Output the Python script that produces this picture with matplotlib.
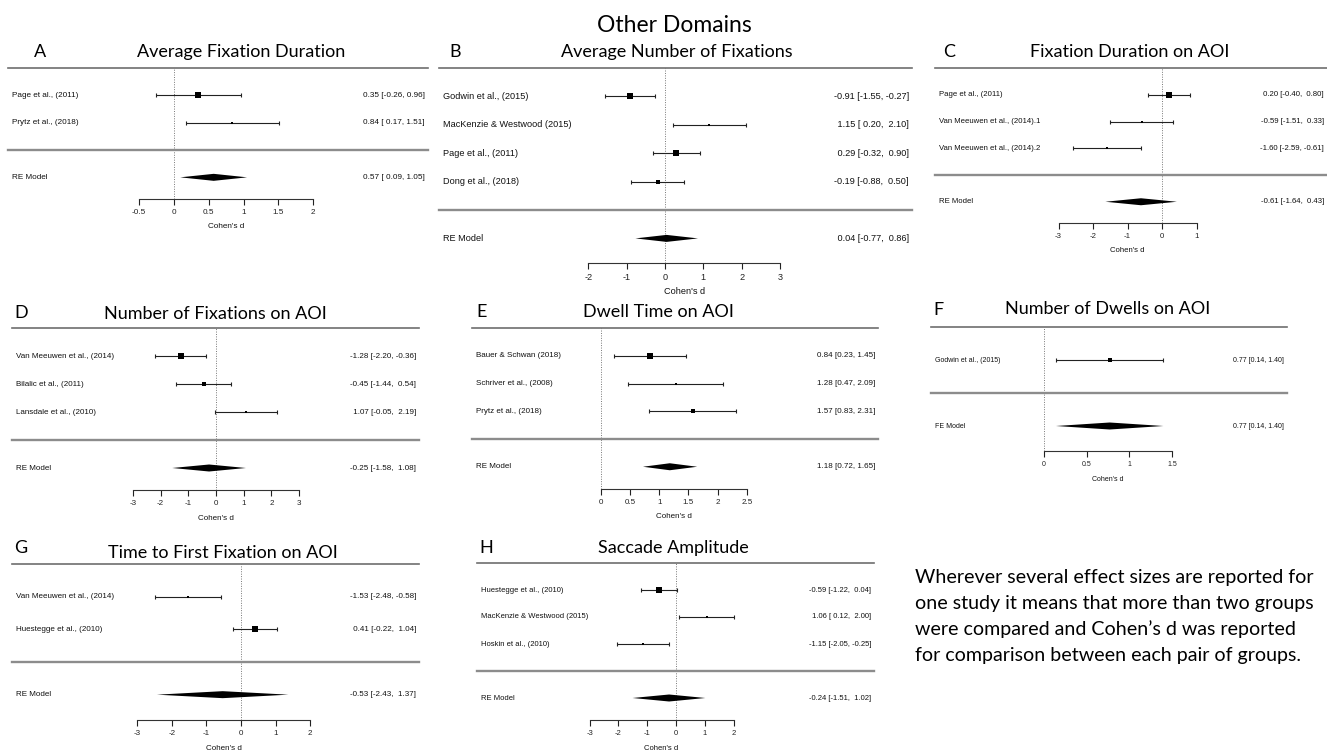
import numpy as np
import matplotlib.pyplot as plt

plt.rcParams['font.family'] = ['Liberation Sans', 'DejaVu Sans']

W, H = 1327, 750

# A: Average Fixation Duration
a_studies = ["Page et al., (2011)", "Prytz et al., (2018)"]
a_est = [0.35, 0.84]
a_lo = [-0.26, 0.17]
a_hi = [0.96, 1.51]
a_model = ["RE Model", 0.57, 0.09, 1.05]
a_ticks = [-0.5, 0, 0.5, 1, 1.5, 2]

# B: Average Number of Fixations
b_studies = ["Godwin et al., (2015)", "MacKenzie & Westwood (2015)",
             "Page et al., (2011)", "Dong et al., (2018)"]
b_est = [-0.91, 1.15, 0.29, -0.19]
b_lo = [-1.55, 0.20, -0.32, -0.88]
b_hi = [-0.27, 2.10, 0.90, 0.50]
b_model = ["RE Model", 0.04, -0.77, 0.86]
b_ticks = [-2, -1, 0, 1, 2, 3]

# C: Fixation Duration on AOI
c_studies = ["Page et al., (2011)", "Van Meeuwen et al., (2014).1",
             "Van Meeuwen et al., (2014).2"]
c_est = [0.20, -0.59, -1.60]
c_lo = [-0.40, -1.51, -2.59]
c_hi = [0.80, 0.33, -0.61]
c_model = ["RE Model", -0.61, -1.64, 0.43]
c_ticks = [-3, -2, -1, 0, 1]

# D: Number of Fixations on AOI
d_studies = ["Van Meeuwen et al., (2014)", "Bilalic et al., (2011)",
             "Lansdale et al., (2010)"]
d_est = [-1.28, -0.45, 1.07]
d_lo = [-2.20, -1.44, -0.05]
d_hi = [-0.36, 0.54, 2.19]
d_model = ["RE Model", -0.25, -1.58, 1.08]
d_ticks = [-3, -2, -1, 0, 1, 2, 3]

# E: Dwell Time on AOI
e_studies = ["Bauer & Schwan (2018)", "Schriver et al., (2008)",
             "Prytz et al., (2018)"]
e_est = [0.84, 1.28, 1.57]
e_lo = [0.23, 0.47, 0.83]
e_hi = [1.45, 2.09, 2.31]
e_model = ["RE Model", 1.18, 0.72, 1.65]
e_ticks = [0, 0.5, 1, 1.5, 2, 2.5]

# F: Number of Dwells on AOI
f_studies = ["Godwin et al., (2015)"]
f_est = [0.77]
f_lo = [0.14]
f_hi = [1.40]
f_model = ["FE Model", 0.77, 0.14, 1.40]
f_ticks = [0, 0.5, 1, 1.5]

# G: Time to First Fixation on AOI
g_studies = ["Van Meeuwen et al., (2014)", "Huestegge et al., (2010)"]
g_est = [-1.53, 0.41]
g_lo = [-2.48, -0.22]
g_hi = [-0.58, 1.04]
g_model = ["RE Model", -0.53, -2.43, 1.37]
g_ticks = [-3, -2, -1, 0, 1, 2]

# H: Saccade Amplitude
h_studies = ["Huestegge et al., (2010)", "MacKenzie & Westwood (2015)",
             "Hoskin et al., (2010)"]
h_est = [-0.59, 1.06, -1.15]
h_lo = [-1.22, 0.12, -2.05]
h_hi = [0.04, 2.00, -0.25]
h_model = ["RE Model", -0.24, -1.51, 1.02]
h_ticks = [-3, -2, -1, 0, 1, 2]

note_lines = [
    "Wherever several effect sizes are reported for",
    "one study it means that more than two groups",
    "were compared and Cohen\u2019s d was reported",
    "for comparison between each pair of groups.",
]

fig = plt.figure(figsize=(W / 100, H / 100), dpi=100)


def fx(px):
    return px / W


def fy(py):
    return 1 - py / H


def fmt_col(vals):
    s = [f"{v:.2f}" for v in vals]
    w = max(len(t) for t in s)
    return [t.rjust(w) for t in s]


def forest(geom, studies, est, lo, hi, model, ticks):
    left, right, top, sep, axis_y, x0, ppu, fs = geom
    k = len(studies)
    unit = (sep - top) / (k + 1)
    ax = fig.add_axes([fx(left), fy(axis_y), (right - left) / W, (axis_y - top) / H])
    ax.set_xlim((left - x0) / ppu, (right - x0) / ppu)
    ax.set_ylim(-(axis_y - sep) / unit, k + 1)
    ax.patch.set_alpha(0)
    for s in ['top', 'left', 'right']:
        ax.spines[s].set_visible(False)
    ax.spines['bottom'].set_bounds(ticks[0], ticks[-1])
    ax.spines['bottom'].set_linewidth(0.8)
    ax.spines['bottom'].set_color('#333333')
    ax.set_yticks([])
    ax.set_xticks(ticks)
    ax.set_xticklabels([f"{t:g}" for t in ticks])
    ax.tick_params(axis='x', direction='out', length=4, width=0.8, pad=3,
                   labelsize=fs, colors='#222222')

    ax.axhline(k + 1, color='#6e6e6e', lw=1.2, clip_on=False)
    ax.axhline(0, color='#8c8c8c', lw=1.7, clip_on=False)
    ax.axvline(0, color='#777777', lw=0.7, ls=(0, (1, 1.5)), zorder=1)

    est = np.array(est)
    lo = np.array(lo)
    hi = np.array(hi)
    rows = np.arange(k, 0, -1)

    # square size from inverse-variance weights
    w = 1 / ((hi - lo) / 3.92) ** 2
    if k > 1:
        psize = (w - w.min()) / (w.max() - w.min()) + 0.5
    else:
        psize = np.ones(k)

    cap = 2.0 / unit
    ax.hlines(rows, lo, hi, color='#222222', lw=0.8)
    ax.vlines(np.r_[lo, hi], np.r_[rows, rows] - cap, np.r_[rows, rows] + cap,
              color='#222222', lw=0.8)
    for r, e, p in zip(rows, est, psize):
        ax.plot(e, r, marker='s', ms=p * 4 * 0.72, color='black', mew=0, zorder=3)

    name, m_est, m_lo, m_hi = model
    dh = 3.5 / unit
    ax.fill([m_lo, m_est, m_hi, m_est], [-1, -1 + dh, -1, -1 - dh],
            color='black', lw=0)

    est_s = fmt_col(list(est) + [m_est])
    lo_s = fmt_col(list(lo) + [m_lo])
    hi_s = fmt_col(list(hi) + [m_hi])
    xl = (left + 4 - x0) / ppu
    xr = (right - 3 - x0) / ppu
    for i, (r, lab) in enumerate(zip(list(rows) + [-1], list(studies) + [name])):
        ax.text(xl, r, lab, ha='left', va='center', fontsize=fs, color='#111111')
        ax.text(xr, r, f"{est_s[i]} [{lo_s[i]}, {hi_s[i]}]", ha='right',
                va='center', fontsize=fs, color='#111111')

    mid = (ticks[0] + ticks[-1]) / 2
    fig.text(fx(x0 + mid * ppu), fy(axis_y + 28), "Cohen's d", ha='center',
             va='center', fontsize=fs, color='#111111')
    return ax


# left, right, top line, separator, axis line, x of zero, px per unit, font size
panels = [
    ((8, 428, 68, 150, 199, 174, 69.6, 5.9), a_studies, a_est, a_lo, a_hi, a_model, a_ticks,
     "A", "Average Fixation Duration", (40, 57), (241, 57)),
    ((439, 912, 68, 210, 263, 665, 38.4, 6.6), b_studies, b_est, b_lo, b_hi, b_model, b_ticks,
     "B", "Average Number of Fixations", (455, 57), (677, 57)),
    ((935, 1327, 68, 175, 223, 1162, 34.5, 5.6), c_studies, c_est, c_lo, c_hi, c_model, c_ticks,
     "C", "Fixation Duration on AOI", (949, 57), (1130, 57)),
    ((12, 419, 328, 440, 490, 216, 27.7, 5.8), d_studies, d_est, d_lo, d_hi, d_model, d_ticks,
     "D", "Number of Fixations on AOI", (21, 318), (215, 319)),
    ((472, 878, 328, 439, 489, 601, 58.3, 5.8), e_studies, e_est, e_lo, e_hi, e_model, e_ticks,
     "E", "Dwell Time on AOI", (482, 317), (658, 317)),
    ((931, 1287, 327, 393, 451, 1044, 85.3, 5.0), f_studies, f_est, f_lo, f_hi, f_model, f_ticks,
     "F", "Number of Dwells on AOI", (938, 315), (1108, 314)),
    ((12, 419, 564, 662, 720, 241, 34.6, 5.8), g_studies, g_est, g_lo, g_hi, g_model, g_ticks,
     "G", "Time to First Fixation on AOI", (21, 553), (223, 558)),
    ((477, 874, 563, 671, 720, 676, 28.8, 5.5), h_studies, h_est, h_lo, h_hi, h_model, h_ticks,
     "H", "Saccade Amplitude", (486, 553), (673, 553)),
]

for geom, st, es, lo, hi, mod, tk, letter, title, lxy, txy in panels:
    forest(geom, st, es, lo, hi, mod, tk)
    fig.text(fx(lxy[0]), fy(lxy[1]), letter, ha='center', va='baseline',
             fontsize=13, family='Lato', color='black')
    fig.text(fx(txy[0]), fy(txy[1]), title, ha='center', va='baseline',
             fontsize=13, family='Lato', color='black')

fig.text(fx(674), fy(32), "Other Domains", ha='center', va='baseline',
         fontsize=16.5, family='Lato', color='black')

for i, line in enumerate(note_lines):
    fig.text(fx(915), fy(583 + 26 * i), line, ha='left', va='baseline',
             fontsize=14.1, family='Lato', color='black')

fig.savefig('out.png', dpi=100)
